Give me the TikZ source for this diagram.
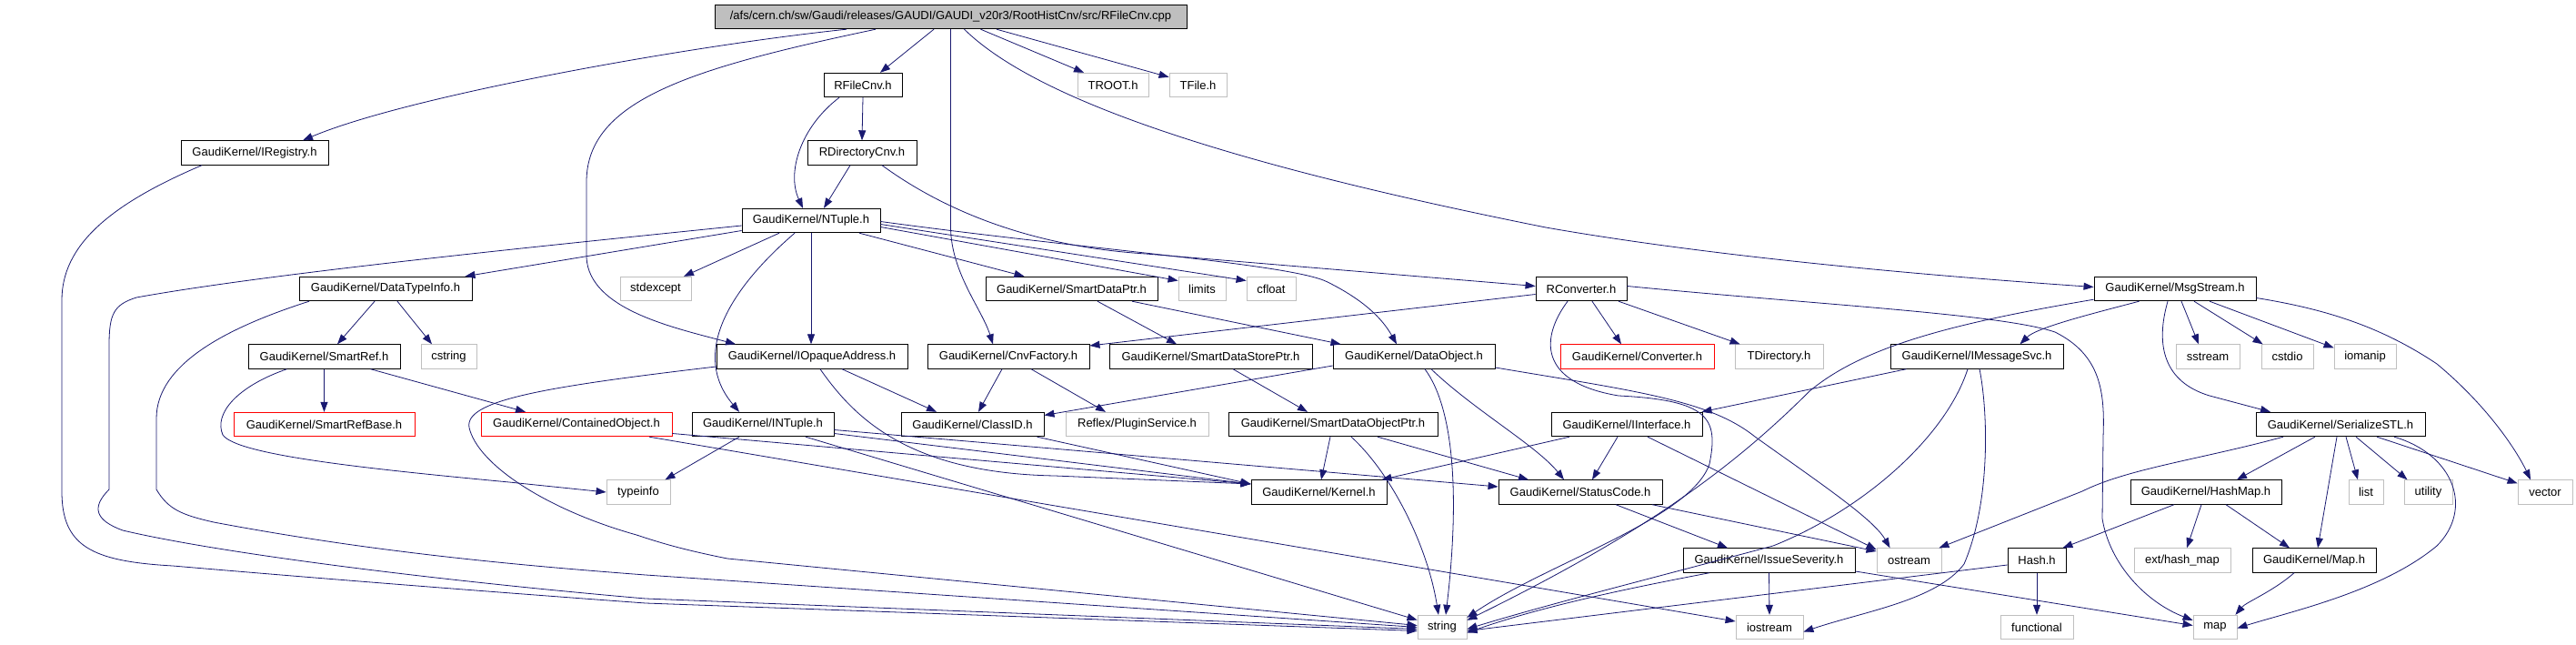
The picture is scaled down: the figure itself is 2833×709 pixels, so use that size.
\documentclass[tikz,border=0pt]{standalone}
\usepackage{fontspec}
\setmainfont{Liberation Sans}
\usetikzlibrary{arrows.meta}
\definecolor{edgec}{HTML}{191970}
\definecolor{grayb}{HTML}{BFBFBF}
\tikzset{
  box/.style={draw=black, line width=0.9pt, rectangle, minimum height=26.5pt, inner sep=0pt, font=\fontsize{13}{15}\selectfont, text=black},
  docbox/.style={box},
  sysbox/.style={box, draw=grayb},
  redbox/.style={box, draw=red},
  rootbox/.style={box, fill=grayb},
  e/.style={draw=edgec, line width=0.8pt, -{Triangle[length=11pt,width=8pt]}}
}
\newcommand\nd[6]{\node[#2, minimum width=#5pt] (#1) at (#3,#4) {#6};}
\begin{document}
\begin{tikzpicture}[x=1pt,y=-1pt]
\fill[white] (0,0) rectangle (2833,709);
\useasboundingbox (0,0) rectangle (2833,709);
% nodes
\nd{root}{rootbox}{1045.5}{18.5}{519}{/afs/cern.ch/sw/Gaudi/releases/GAUDI/GAUDI\_v20r3/RootHistCnv/src/RFileCnv.cpp}
\nd{IRegistry}{docbox}{280}{168}{162}{GaudiKernel/IRegistry.h}
\nd{RFileCnv}{docbox}{949}{93.5}{86}{RFileCnv.h}
\nd{TROOT}{sysbox}{1224}{93.5}{78}{TROOT.h}
\nd{TFile}{sysbox}{1317.5}{93.5}{63}{TFile.h}
\nd{RDirectoryCnv}{docbox}{948}{168}{120}{RDirectoryCnv.h}
\nd{NTuple}{docbox}{892}{242.5}{152}{GaudiKernel/NTuple.h}
\nd{DataTypeInfo}{docbox}{424}{317.5}{190}{GaudiKernel/DataTypeInfo.h}
\nd{stdexcept}{sysbox}{721}{317.5}{78}{stdexcept}
\nd{SmartDataPtr}{docbox}{1178.5}{317.5}{189}{GaudiKernel/SmartDataPtr.h}
\nd{limits}{sysbox}{1322}{317.5}{52}{limits}
\nd{cfloat}{sysbox}{1398}{317.5}{54}{cfloat}
\nd{RConverter}{docbox}{1739}{317.5}{100}{RConverter.h}
\nd{MsgStream}{docbox}{2392}{317.5}{178}{GaudiKernel/MsgStream.h}
\nd{SmartRef}{docbox}{356.5}{392}{167}{GaudiKernel/SmartRef.h}
\nd{cstring}{sysbox}{493.5}{392}{61}{cstring}
\nd{IOpaqueAddress}{docbox}{893}{392}{210}{GaudiKernel/IOpaqueAddress.h}
\nd{CnvFactory}{docbox}{1109}{392}{178}{GaudiKernel/CnvFactory.h}
\nd{SmartDataStorePtr}{docbox}{1331.5}{392}{223}{GaudiKernel/SmartDataStorePtr.h}
\nd{DataObject}{docbox}{1555}{392}{178}{GaudiKernel/DataObject.h}
\nd{Converter}{redbox}{1800.5}{392}{169}{GaudiKernel/Converter.h}
\nd{TDirectory}{sysbox}{1956.5}{392}{97}{TDirectory.h}
\nd{IMessageSvc}{docbox}{2174}{392}{190}{GaudiKernel/IMessageSvc.h}
\nd{sstream}{sysbox}{2428}{392}{70}{sstream}
\nd{cstdio}{sysbox}{2515.5}{392}{57}{cstdio}
\nd{iomanip}{sysbox}{2601}{392}{68}{iomanip}
\nd{SmartRefBase}{redbox}{356.5}{466.5}{199}{GaudiKernel/SmartRefBase.h}
\nd{ContainedObject}{redbox}{634}{466.5}{210}{GaudiKernel/ContainedObject.h}
\nd{INTuple}{docbox}{839}{466.5}{156}{GaudiKernel/INTuple.h}
\nd{ClassID}{docbox}{1069.5}{466.5}{157}{GaudiKernel/ClassID.h}
\nd{PluginService}{sysbox}{1250.5}{466.5}{157}{Reflex/PluginService.h}
\nd{SmartDataObjectPtr}{docbox}{1466}{466.5}{230}{GaudiKernel/SmartDataObjectPtr.h}
\nd{IInterface}{docbox}{1789}{466.5}{166}{GaudiKernel/IInterface.h}
\nd{SerializeSTL}{docbox}{2574}{466.5}{186}{GaudiKernel/SerializeSTL.h}
\nd{typeinfo}{sysbox}{702}{541}{70}{typeinfo}
\nd{Kernel}{docbox}{1450.5}{541}{149}{GaudiKernel/Kernel.h}
\nd{StatusCode}{docbox}{1738}{541}{180}{GaudiKernel/StatusCode.h}
\nd{HashMap}{docbox}{2426}{541}{166}{GaudiKernel/HashMap.h}
\nd{list}{sysbox}{2602}{541}{38}{list}
\nd{utility}{sysbox}{2670.5}{541}{53}{utility}
\nd{vector}{sysbox}{2799}{541}{60}{vector}
\nd{IssueSeverity}{docbox}{1945.5}{616}{189}{GaudiKernel/IssueSeverity.h}
\nd{ostream}{sysbox}{2099.5}{616}{71}{ostream}
\nd{Hash}{docbox}{2240}{616}{64}{Hash.h}
\nd{exthashmap}{sysbox}{2400}{616}{106}{ext/hash\_map}
\nd{Map}{docbox}{2545}{616}{136}{GaudiKernel/Map.h}
\nd{string}{sysbox}{1586}{689.5}{54}{string}
\nd{iostream}{sysbox}{1946}{689.5}{74}{iostream}
\nd{functional}{sysbox}{2240}{689.5}{80}{functional}
\nd{map}{sysbox}{2436}{689.5}{48}{map}
% edges: root
\draw[e] ([xshift=-114.5pt]root.south) .. controls (760,50) and (450,105) .. ([xshift=53pt]IRegistry.north);
\draw[e] ([xshift=-82.5pt]root.south) .. controls (760,75) and (645,110) .. (645,200) -- (645,283) .. controls (648,340) and (740,360) .. ([xshift=-84pt]IOpaqueAddress.north);
\draw[e] ([xshift=-18.5pt]root.south) -- ([xshift=19pt]RFileCnv.north);
\draw[e] (root.south) -- (1045.5,250) .. controls (1046,300) and (1080,340) .. ([xshift=-17pt]CnvFactory.north);
\draw[e] ([xshift=33pt]root.south) -- ([xshift=-32pt]TROOT.north);
\draw[e] ([xshift=50.5pt]root.south) -- ([yshift=-5pt]TFile.north west);
\draw[e] ([xshift=15pt]root.south) .. controls (1150,120) and (1400,190) .. (1700,250) .. controls (1900,285) and (2150,305) .. ([yshift=2pt]MsgStream.west);
% RFileCnv, RDirectoryCnv
\draw[e] ([xshift=-26pt]RFileCnv.south) .. controls (880,140) and (865,190) .. ([xshift=-9pt]NTuple.north);
\draw[e] (RFileCnv.south) -- (RDirectoryCnv.north);
\draw[e] ([xshift=-13pt]RDirectoryCnv.south) -- ([xshift=14pt]NTuple.north);
\draw[e] ([xshift=22pt]RDirectoryCnv.south) .. controls (1050,240) and (1150,272) .. (1260,279) -- ([yshift=3pt]RConverter.west);
% NTuple
\draw[e] ([yshift=-5.5pt]NTuple.west) .. controls (600,270) and (300,300) .. (150,327) .. controls (125,335) and (120,345) .. (120,380) -- (120,538) .. controls (100,558) and (105,572) .. (135,583) .. controls (250,610) and (500,640) .. (710,658) -- ([yshift=-2pt]string.west);
\draw[e] ([yshift=-11pt]NTuple.west) -- ([xshift=-8pt]DataTypeInfo.north east);
\draw[e] ([xshift=-35pt]NTuple.south) -- ([xshift=31pt]stdexcept.north);
\draw[e] ([xshift=-18pt]NTuple.south) .. controls (800,320) and (760,390) .. ([xshift=-26pt]INTuple.north);
\draw[e] (NTuple.south) -- ([xshift=-1pt]IOpaqueAddress.north);
\draw[e] ([xshift=53pt]NTuple.south) -- ([xshift=-52pt]SmartDataPtr.north);
\draw[e] ([yshift=-7pt]NTuple.east) -- ([yshift=9pt]limits.west);
\draw[e] ([yshift=-4pt]NTuple.east) -- ([yshift=9pt]cfloat.west);
\draw[e] ([yshift=-1pt]NTuple.east) .. controls (1200,275) and (1420,290) .. (1460,310) .. controls (1500,330) and (1520,350) .. ([xshift=-19pt]DataObject.north);
% SmartDataPtr
\draw[e] ([xshift=28.5pt]SmartDataPtr.south) -- ([xshift=-37.5pt]SmartDataStorePtr.north);
\draw[e] ([xshift=66.5pt]SmartDataPtr.south) -- ([xshift=9pt]DataObject.north west);
% IRegistry
\draw[e] ([xshift=-58pt]IRegistry.south) .. controls (120,225) and (68,270) .. (68,330) -- (68,540) .. controls (68,600) and (100,617) .. (190,622) .. controls (400,640) and (600,655) .. (710,663) -- ([yshift=-4pt]string.west);
% DataTypeInfo
\draw[e] ([xshift=-84pt]DataTypeInfo.south) .. controls (250,360) and (172,400) .. (172,460) -- (172,538) .. controls (185,560) and (200,566) .. (235,574) .. controls (400,605) and (550,620) .. (710,632) -- (string.west);
\draw[e] ([xshift=-12pt]DataTypeInfo.south) -- ([xshift=14.5pt]SmartRef.north);
\draw[e] ([xshift=13pt]DataTypeInfo.south) -- ([xshift=-18.5pt]cstring.north);
% SmartRef
\draw[e] (SmartRef.south) -- (SmartRefBase.north);
\draw[e] ([xshift=51pt]SmartRef.south) -- ([xshift=-56pt]ContainedObject.north);
\draw[e] ([xshift=-41pt]SmartRef.south) .. controls (260,425) and (235,455) .. (245,478) .. controls (260,500) and (400,515) .. (560,530) -- (typeinfo.west);
% IOpaqueAddress
\draw[e] ([yshift=-11pt]IOpaqueAddress.west) .. controls (600,425) and (510,440) .. (516,470) .. controls (525,510) and (600,560) .. (700,588) .. controls (730,598) and (755,605) .. (800,614) -- ([yshift=2pt]string.west);
\draw[e] ([xshift=33pt]IOpaqueAddress.south) -- ([xshift=-39.5pt]ClassID.north);
\draw[e] ([xshift=9pt]IOpaqueAddress.south) .. controls (940,460) and (1000,520) .. (1160,523) -- ([yshift=9pt]Kernel.west);
% CnvFactory, SmartDataStorePtr
\draw[e] ([xshift=-7pt]CnvFactory.south) -- ([xshift=6.5pt]ClassID.north);
\draw[e] ([xshift=25pt]CnvFactory.south) -- ([xshift=-34.5pt]PluginService.north);
\draw[e] ([xshift=24.5pt]SmartDataStorePtr.south) -- ([xshift=-28pt]SmartDataObjectPtr.north);
% DataObject
\draw[e] ([yshift=-10pt]DataObject.west) -- ([yshift=10pt]ClassID.east);
\draw[e] ([xshift=12pt]DataObject.south) .. controls (1600,450) and (1605,550) .. ([xshift=4pt]string.north);
\draw[e] ([xshift=19pt]DataObject.south) .. controls (1620,450) and (1690,490) .. ([xshift=-18pt]StatusCode.north);
\draw[e] ([yshift=-12pt]DataObject.east) .. controls (1800,430) and (1880,440) .. (1930,480) .. controls (2000,530) and (2060,570) .. ([xshift=15pt]ostream.north west);
% RConverter
\draw[e] ([yshift=-6pt]RConverter.west) -- ([yshift=12pt]CnvFactory.east);
\draw[e] ([xshift=12pt]RConverter.south) -- ([xshift=-17.5pt]Converter.north);
\draw[e] ([xshift=41pt]RConverter.south) -- ([xshift=6pt]TDirectory.north west);
\draw[e] ([xshift=-15pt]RConverter.south) .. controls (1695,370) and (1690,420) .. (1780,435) .. controls (1880,440) and (1890,460) .. (1880,510) .. controls (1860,570) and (1700,620) .. ([yshift=-3pt]string.north east);
\draw[e] ([yshift=3pt]RConverter.east) .. controls (2000,335) and (2200,345) .. (2260,365) .. controls (2310,390) and (2315,430) .. (2313,480) -- (2312,570) .. controls (2320,620) and (2360,662) .. ([yshift=-6pt]map.north west);
% MsgStream
\draw[e] ([yshift=2pt]MsgStream.south west) .. controls (2150,355) and (2050,380) .. (1990,430) .. controls (1900,520) and (1800,590) .. ([yshift=-6pt]string.north east);
\draw[e] ([xshift=-39.5pt]MsgStream.south) .. controls (2300,345) and (2240,360) .. ([xshift=47.5pt]IMessageSvc.north);
\draw[e] ([xshift=-8pt]MsgStream.south) .. controls (2370,380) and (2380,420) .. (2430,435) -- ([xshift=-77pt]SerializeSTL.north);
\draw[e] ([xshift=7pt]MsgStream.south) -- ([xshift=-10pt]sstream.north);
\draw[e] ([xshift=21pt]MsgStream.south) -- ([xshift=2pt]cstdio.north west);
\draw[e] ([xshift=38pt]MsgStream.south) -- ([yshift=-4pt]iomanip.north west);
\draw[e] ([yshift=-10pt]MsgStream.east) .. controls (2560,340) and (2620,360) .. (2680,400) .. controls (2740,450) and (2770,500) .. ([xshift=-16pt]vector.north);
% IMessageSvc
\draw[e] ([xshift=18pt]IMessageSvc.south west) -- ([xshift=-1pt]IInterface.north east);
\draw[e] ([xshift=-10pt]IMessageSvc.south) .. controls (2140,480) and (2050,560) .. (1950,600) .. controls (1800,640) and (1700,665) .. ([yshift=-2pt]string.east);
\draw[e] ([xshift=3pt]IMessageSvc.south) .. controls (2186,450) and (2190,550) .. (2160,620) .. controls (2130,660) and (2050,672) .. ([yshift=-5pt]iostream.east);
% IInterface
\draw[e] ([xshift=-63pt]IInterface.south) -- ([xshift=-6pt]Kernel.north east);
\draw[e] ([xshift=-10pt]IInterface.south) -- ([xshift=13pt]StatusCode.north);
\draw[e] ([xshift=23pt]IInterface.south) -- ([yshift=12pt]ostream.west);
% StatusCode
\draw[e] ([xshift=39pt]StatusCode.south) -- ([xshift=-45.5pt]IssueSeverity.north);
\draw[e] ([xshift=79pt]StatusCode.south) -- ([yshift=10pt]ostream.west);
% IssueSeverity
\draw[e] ([xshift=-65.5pt]IssueSeverity.south) .. controls (1800,645) and (1700,665) .. ([yshift=-6pt]string.east);
\draw[e] (IssueSeverity.south) -- (iostream.north);
\draw[e] ([yshift=-12pt]IssueSeverity.east) -- ([yshift=2pt]map.west);
% SerializeSTL
\draw[e] ([xshift=-63pt]SerializeSTL.south) .. controls (2420,505) and (2340,515) .. (2290,540) -- ([xshift=-3pt]ostream.north east);
\draw[e] ([xshift=-28pt]SerializeSTL.south) -- ([xshift=34pt]HashMap.north);
\draw[e] ([xshift=-4pt]SerializeSTL.south) -- ([xshift=4pt]Map.north);
\draw[e] ([xshift=6pt]SerializeSTL.south) -- ([xshift=-9pt]list.north);
\draw[e] ([xshift=17pt]SerializeSTL.south) -- ([xshift=-23pt]utility.north);
\draw[e] ([xshift=40pt]SerializeSTL.south) -- ([yshift=-4pt]vector.north west);
\draw[e] ([xshift=59pt]SerializeSTL.south) .. controls (2700,500) and (2720,560) .. (2680,600) .. controls (2620,650) and (2520,672) .. ([yshift=-1pt]map.east);
% HashMap, Hash, Map
\draw[e] ([xshift=-35pt]HashMap.south) -- ([xshift=-4pt]Hash.north east);
\draw[e] ([xshift=-5pt]HashMap.south) -- ([xshift=5pt]exthashmap.north);
\draw[e] ([xshift=22pt]HashMap.south) -- ([xshift=-27pt]Map.north);
\draw[e] ([yshift=-5pt]Hash.west) -- ([yshift=-4pt]string.east);
\draw[e] (Hash.south) -- (functional.north);
\draw[e] ([xshift=-22pt]Map.south) .. controls (2500,650) and (2470,662) .. ([xshift=-2pt]map.north east);
% INTuple
\draw[e] ([xshift=-26pt]INTuple.south) -- ([xshift=-6pt]typeinfo.north east);
\draw[e] ([yshift=-10pt]INTuple.east) -- ([yshift=9pt]Kernel.west);
\draw[e] ([yshift=-6pt]INTuple.east) -- ([yshift=6pt]StatusCode.west);
\draw[e] ([xshift=47pt]INTuple.south) -- ([yshift=8pt]string.west);
% ContainedObject
\draw[e] ([yshift=-10pt]ContainedObject.east) -- ([yshift=9pt]Kernel.west);
\draw[e] ([xshift=80pt]ContainedObject.south) -- ([yshift=6.5pt]iostream.west);
% SmartDataObjectPtr
\draw[e] ([xshift=-3pt]SmartDataObjectPtr.south) -- ([xshift=2.5pt]Kernel.north);
\draw[e] ([xshift=49pt]SmartDataObjectPtr.south) -- ([xshift=-57pt]StatusCode.north);
\draw[e] ([xshift=20pt]SmartDataObjectPtr.south) .. controls (1530,520) and (1570,600) .. ([xshift=-4pt]string.north);
% ClassID
\draw[e] ([xshift=71pt]ClassID.south) -- ([yshift=9pt]Kernel.west);
\end{tikzpicture}
\end{document}
